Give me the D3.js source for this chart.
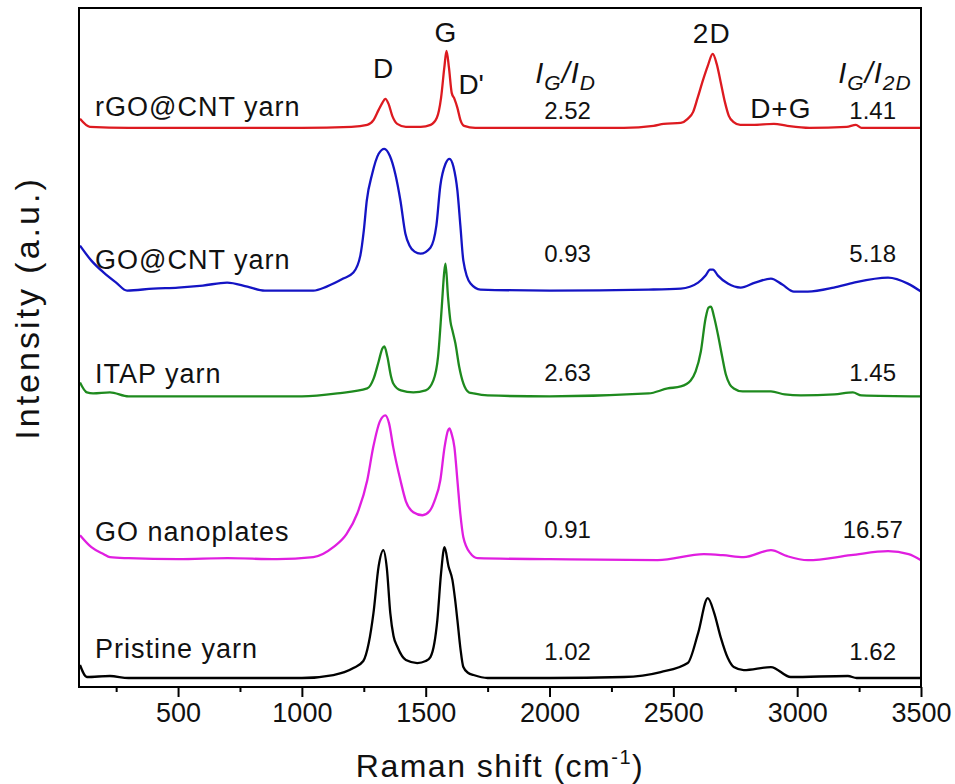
<!DOCTYPE html>
<html>
<head>
<meta charset="utf-8">
<script src="https://cdn.jsdelivr.net/npm/d3@7/dist/d3.min.js"></script>
<style>
  html, body { margin: 0; padding: 0; background: #fff; }
  svg { display: block; font-family: "Liberation Sans", Arial, sans-serif; }
</style>
</head>
<body>
<svg id="chart" width="955" height="784"></svg>
<script>
// Raman spectra: [wavenumber (cm-1), intensity above the trace baseline (a.u.)]
const rgoCntYarn = [
  [104, 9], [144, 1], [300, 0], [600, 0], [1000, 0], [1200, 1], [1264, 3], [1290, 8], [1310, 18],
  [1325, 25], [1337, 29], [1350, 24], [1365, 12], [1385, 4], [1420, 1], [1480, 1], [1520, 3],
  [1545, 10], [1562, 30], [1575, 60], [1584, 77], [1594, 60], [1605, 35], [1616, 29], [1628, 20],
  [1640, 8], [1655, 2], [1700, 0], [2000, 0], [2300, 0], [2420, 2], [2461, 4], [2530, 5],
  [2558, 9], [2580, 16], [2598, 30], [2620, 48], [2639, 62], [2659, 74], [2675, 64], [2691, 46],
  [2708, 26], [2724, 12], [2742, 6], [2770, 3], [2820, 3], [2906, 4], [2960, 2], [3050, 0],
  [3200, 1], [3237, 3], [3260, 0], [3500, 0]
];
const goCntYarn = [
  [104, 45], [150, 30], [200, 18], [250, 8], [294, 0], [400, 2], [500, 3], [600, 5], [698, 8],
  [780, 4], [850, 0], [1046, 0], [1100, 4], [1167, 12], [1208, 18], [1236, 35], [1250, 60],
  [1262, 90], [1284, 117], [1310, 137], [1333, 142], [1355, 135], [1377, 117], [1398, 90],
  [1418, 57], [1435, 45], [1455, 39], [1479, 37], [1519, 43], [1543, 65], [1559, 105],
  [1580, 127], [1596, 132], [1612, 124], [1628, 100], [1640, 65], [1652, 30], [1681, 7], [1721, 1],
  [2000, 0], [2400, 1], [2530, 2], [2600, 8], [2630, 15], [2648, 21], [2660, 21], [2680, 15],
  [2720, 7], [2772, 3], [2830, 8], [2894, 12], [2940, 6], [2987, -1], [3043, -1], [3148, 3],
  [3229, 8], [3367, 13], [3447, 7], [3500, -1]
];
const itapYarn = [
  [104, 14], [132, 4], [157, 3], [225, 4], [300, 0], [600, 0], [1000, 0], [1143, 3], [1264, 8],
  [1290, 18], [1310, 35], [1325, 48], [1333, 50], [1345, 40], [1360, 20], [1369, 13], [1400, 6],
  [1450, 4], [1500, 6], [1531, 16], [1550, 40], [1565, 90], [1575, 125], [1580, 133], [1590, 100],
  [1600, 75], [1608, 66], [1620, 53], [1635, 30], [1652, 13], [1675, 4], [1693, 3], [1750, 1],
  [2000, 0], [2400, 3], [2477, 8], [2530, 10], [2570, 16], [2590, 25], [2611, 45], [2630, 78],
  [2642, 89], [2652, 90], [2664, 80], [2680, 62], [2697, 40], [2712, 22], [2728, 12], [2744, 8],
  [2780, 5], [2894, 5], [2950, 2], [3015, 1], [3150, 2], [3225, 4], [3260, 1], [3500, 0]
];
const goNanoplates = [
  [104, 24], [150, 12], [200, 5], [225, 2], [300, 1], [500, 0], [700, 1], [900, 0], [1046, 2],
  [1127, 12], [1180, 25], [1224, 46], [1264, 79], [1288, 112], [1315, 138], [1337, 144],
  [1352, 136], [1369, 112], [1398, 79], [1420, 58], [1450, 47], [1487, 44], [1515, 48],
  [1535, 58], [1559, 79], [1576, 112], [1590, 129], [1596, 131], [1604, 126], [1616, 112],
  [1628, 79], [1640, 45], [1652, 22], [1680, 6], [1709, 1], [2000, 0], [2437, -1], [2623, 5],
  [2700, 4], [2784, 2], [2894, 9], [2960, 3], [3043, -1], [3217, 4], [3367, 8], [3450, 5],
  [3500, -1]
];
const pristineYarn = [
  [104, 13], [132, 1], [225, 2], [300, 0], [600, 0], [1000, 0], [1127, 3], [1208, 10],
  [1248, 17], [1270, 35], [1289, 65], [1310, 112], [1329, 128], [1343, 110], [1357, 65],
  [1370, 42], [1386, 31], [1420, 18], [1466, 15], [1500, 17], [1519, 21], [1535, 35], [1547, 58],
  [1562, 105], [1576, 131], [1592, 112], [1608, 98], [1618, 80], [1628, 58], [1640, 30],
  [1652, 11], [1672, 5], [1693, 3], [1750, 0], [2000, 0], [2300, 1], [2449, 6], [2558, 15],
  [2600, 45], [2639, 80], [2665, 65], [2691, 41], [2720, 20], [2744, 11], [2784, 8], [2894, 11],
  [2974, 1], [3205, 2], [3240, 0], [3500, 0]
];

// Samples, top to bottom, with their stacking offsets (a.u.)
const sampleNames = ["rGO@CNT yarn", "GO@CNT yarn", "ITAP yarn", "GO nanoplates", "Pristine yarn"];
const spectra = [rgoCntYarn, goCntYarn, itapYarn, goNanoplates, pristineYarn];
const stackOffsets = [560, 397, 291, 128, 9];
const traceColors = ["#dd1a20", "#1414c4", "#1e8a1e", "#e01ee0", "#000000"];

// Intensity ratios
const ratioGtoD = ["2.52", "0.93", "2.63", "0.91", "1.02"];
const ratioGto2D = ["1.41", "5.18", "1.45", "16.57", "1.62"];

// Band labels: [name, position (cm-1), height above the rGO@CNT baseline]
const bandLabels = [["D", 1330, 50], ["G", 1582, 86], ["2D", 2655, 85], ["D+G", 2934, 10]];

// Axis ticks
const majorTicks = [500, 1000, 1500, 2000, 2500, 3000, 3500];
const minorTicks = [250, 750, 1250, 1750, 2250, 2750, 3250];

// Text lift above each baseline (a.u.)
const nameLift = [12, 22, 13, 18, 20];
const ratioLift = [9, 29, 15, 21, 18];

const svg = d3.select("#chart");
const plot = { left: 79, right: 921, top: 8, bottom: 687 };

const x = d3.scaleLinear().domain([100, 3500]).range([plot.left, plot.right]);
const y = d3.scaleLinear().domain([0, 680]).range([plot.bottom, plot.top]);

// Traces
const line = d3.line()
  .x(d => x(d[0]))
  .y(d => y(d[1]))
  .curve(d3.curveMonotoneX);

spectra.forEach((s, i) => {
  svg.append("path")
    .datum(s.map(([w, v]) => [w, v + stackOffsets[i]]))
    .attr("fill", "none")
    .attr("stroke", traceColors[i])
    .attr("stroke-width", 2.3)
    .attr("stroke-linejoin", "round")
    .attr("d", line);
});

// Frame
svg.append("rect")
  .attr("x", plot.left).attr("y", plot.top)
  .attr("width", plot.right - plot.left).attr("height", plot.bottom - plot.top)
  .attr("fill", "none").attr("stroke", "#000").attr("stroke-width", 2);

// Bottom axis
const xAxis = d3.axisBottom(x).tickValues(majorTicks).tickFormat(d3.format("d"))
  .tickSize(10).tickSizeOuter(0).tickPadding(6);
const gx = svg.append("g").attr("transform", `translate(0,${plot.bottom})`).call(xAxis);
gx.select(".domain").remove();
gx.selectAll(".tick line").attr("stroke-width", 2);
gx.selectAll(".tick text")
  .attr("font-family", "Liberation Sans, Arial, sans-serif")
  .attr("font-size", 27).attr("fill", "#111");

const xMinor = d3.axisBottom(x).tickValues(minorTicks).tickSize(5).tickSizeOuter(0).tickFormat("");
const gxm = svg.append("g").attr("transform", `translate(0,${plot.bottom})`).call(xMinor);
gxm.select(".domain").remove();
gxm.selectAll(".tick line").attr("stroke-width", 2);

// Axis titles
const xt = svg.append("text")
  .attr("x", (plot.left + plot.right) / 2).attr("y", 777)
  .attr("text-anchor", "middle").attr("font-size", 32).attr("letter-spacing", 1.5)
  .attr("fill", "#111");
xt.append("tspan").text("Raman shift (cm");
xt.append("tspan").attr("font-size", 20).attr("dy", -13).text("-1");
xt.append("tspan").attr("dy", 13).text(")");

svg.append("text")
  .attr("transform", "translate(39,308) rotate(-90)")
  .attr("text-anchor", "middle").attr("font-size", 34).attr("letter-spacing", 3)
  .attr("fill", "#111")
  .text("Intensity (a.u.)");

// Sample names and ratio values
sampleNames.forEach((name, i) => {
  svg.append("text")
    .attr("x", plot.left + 16)
    .attr("y", y(stackOffsets[i] + nameLift[i]))
    .attr("font-size", 27).attr("letter-spacing", 1).attr("fill", "#111")
    .text(name);
  svg.append("text")
    .attr("x", x(2073)).attr("y", y(stackOffsets[i] + ratioLift[i]))
    .attr("text-anchor", "middle").attr("font-size", 24).attr("fill", "#111")
    .text(ratioGtoD[i]);
  svg.append("text")
    .attr("x", x(3305)).attr("y", y(stackOffsets[i] + ratioLift[i]))
    .attr("text-anchor", "middle").attr("font-size", 24).attr("fill", "#111")
    .text(ratioGto2D[i]);
});

// Band labels on the top trace
bandLabels.forEach(([name, w, h]) => {
  svg.append("text")
    .attr("x", x(w)).attr("y", y(stackOffsets[0] + h))
    .attr("text-anchor", "middle").attr("font-size", 28).attr("letter-spacing", 1)
    .attr("fill", "#111")
    .text(name);
});
svg.append("text")
  .attr("x", x(1632)).attr("y", y(stackOffsets[0] + 34))
  .attr("font-size", 28).attr("fill", "#111").text("D'");

// Ratio column headers: I_G/I_D and I_G/I_2D
function ratioHeader(cx, sub2) {
  const t = svg.append("text")
    .attr("x", cx).attr("y", y(stackOffsets[0] + 45))
    .attr("text-anchor", "middle").attr("font-size", 29).attr("letter-spacing", 1)
    .attr("font-style", "italic").attr("fill", "#111");
  t.append("tspan").text("I");
  t.append("tspan").attr("font-size", 21).attr("dy", 7).text("G");
  t.append("tspan").attr("dy", -7).text("/I");
  t.append("tspan").attr("font-size", 21).attr("dy", 7).text(sub2);
}
ratioHeader(x(2065), "D");
ratioHeader(x(3314), "2D");
</script>
</body>
</html>
